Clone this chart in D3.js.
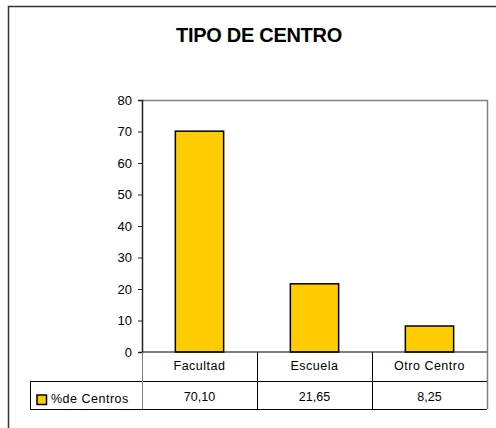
<!DOCTYPE html>
<html>
<head>
<meta charset="utf-8">
<script src="https://d3js.org/d3.v7.min.js"></script>
<style>
  html, body { margin: 0; padding: 0; background: #fff; }
  svg { display: block; font-family: "Liberation Sans", Arial, sans-serif; }
</style>
</head>
<body>
<div id="chart"></div>
<script>
// chart data
var title = "TIPO DE CENTRO";
var categories = ["Facultad", "Escuela", "Otro Centro"];
var values = [70.10, 21.65, 8.25];
var valueLabels = ["70,10", "21,65", "8,25"];
var seriesName = "%de Centros";
var yTicks = [0, 10, 20, 30, 40, 50, 60, 70, 80];

var W = 496, H = 428;
var svg = d3.select("#chart").append("svg")
    .attr("width", W)
    .attr("height", H);

// outer frame (runs off the right/bottom edge like the original)
svg.append("rect")
    .attr("x", 8.5).attr("y", 6.5)
    .attr("width", 520).attr("height", 520)
    .attr("fill", "#fff")
    .attr("stroke", "#333")
    .attr("stroke-width", 1.5);

svg.append("text")
    .attr("x", 259).attr("y", 42)
    .attr("text-anchor", "middle")
    .attr("font-size", 20)
    .attr("font-weight", "bold")
    .attr("letter-spacing", -0.3)
    .text(title);

var plotLeft = 142, plotRight = 487, plotTop = 100, zeroY = 352;
var row1 = 381, row2 = 409, legendLeft = 30;

var x = d3.scaleBand()
    .domain(categories)
    .range([plotLeft, plotRight])
    .paddingInner(0.58)
    .paddingOuter(0.29);

var y = d3.scaleLinear()
    .domain([0, 80])
    .range([zeroY, plotTop]);

// plot area border (grey top and right)
svg.append("path")
    .attr("d", "M" + plotLeft + "," + (plotTop + 0.5) + "H" + (plotRight + 0.5) + "V" + row2)
    .attr("fill", "none")
    .attr("stroke", "#808080")
    .attr("stroke-width", 1.5);

// bars
svg.selectAll("rect.bar")
    .data(values)
    .join("rect")
    .attr("class", "bar")
    .attr("x", (d, i) => x(categories[i]))
    .attr("y", d => y(d))
    .attr("width", x.bandwidth())
    .attr("height", d => zeroY - y(d))
    .attr("fill", "#FFCC00")
    .attr("stroke", "#000")
    .attr("stroke-width", 1.5);

// y axis
var yAxis = svg.append("g")
    .attr("transform", "translate(" + plotLeft + ",0)")
    .call(d3.axisLeft(y).tickValues(yTicks).tickSize(4).tickPadding(6).tickFormat(d3.format("d")));
yAxis.select(".domain").attr("stroke", "#222").attr("stroke-width", 1.5);
yAxis.selectAll(".tick line").attr("stroke", "#222");
yAxis.selectAll(".tick text")
    .attr("font-size", 13)
    .attr("font-family", "Liberation Sans, Arial, sans-serif")
    .attr("fill", "#000");

// data table under the axis
var tbl = svg.append("g");
tbl.append("line")
    .attr("x1", plotLeft).attr("x2", plotRight)
    .attr("y1", zeroY).attr("y2", zeroY)
    .attr("stroke", "#000").attr("stroke-width", 1.2);
tbl.append("line")
    .attr("x1", legendLeft).attr("x2", plotRight)
    .attr("y1", row1 + 0.5).attr("y2", row1 + 0.5)
    .attr("stroke", "#000");
tbl.append("line")
    .attr("x1", legendLeft).attr("x2", plotRight)
    .attr("y1", row2 + 0.5).attr("y2", row2 + 0.5)
    .attr("stroke", "#000");
tbl.append("line")
    .attr("x1", legendLeft + 0.5).attr("x2", legendLeft + 0.5)
    .attr("y1", row1).attr("y2", row2 + 1)
    .attr("stroke", "#000");

var step = x.step();
var dividers = categories.map((c, i) => plotLeft + i * step);
tbl.selectAll("line.div")
    .data(dividers.slice(1))
    .join("line")
    .attr("class", "div")
    .attr("x1", d => Math.round(d) + 0.5).attr("x2", d => Math.round(d) + 0.5)
    .attr("y1", zeroY).attr("y2", row2)
    .attr("stroke", "#000");
tbl.append("line")
    .attr("x1", plotLeft + 0.5).attr("x2", plotLeft + 0.5)
    .attr("y1", zeroY).attr("y2", row2)
    .attr("stroke", "#808080");

tbl.selectAll("text.cat")
    .data(categories)
    .join("text")
    .attr("class", "cat")
    .attr("x", d => x(d) + x.bandwidth() / 2)
    .attr("y", 370)
    .attr("text-anchor", "middle")
    .attr("font-size", 12.5)
    .attr("letter-spacing", 0.5)
    .text(d => d);

tbl.selectAll("text.val")
    .data(valueLabels)
    .join("text")
    .attr("class", "val")
    .attr("x", (d, i) => x(categories[i]) + x.bandwidth() / 2)
    .attr("y", 401)
    .attr("text-anchor", "middle")
    .attr("font-size", 12.5)
    .text(d => d);

// legend key
tbl.append("rect")
    .attr("x", 37).attr("y", 395)
    .attr("width", 9.5).attr("height", 9.5)
    .attr("fill", "#FFCC00")
    .attr("stroke", "#000")
    .attr("stroke-width", 1.5);
tbl.append("text")
    .attr("x", 51).attr("y", 403)
    .attr("font-size", 12.5)
    .attr("letter-spacing", 0.5)
    .text(seriesName);
</script>
</body>
</html>
